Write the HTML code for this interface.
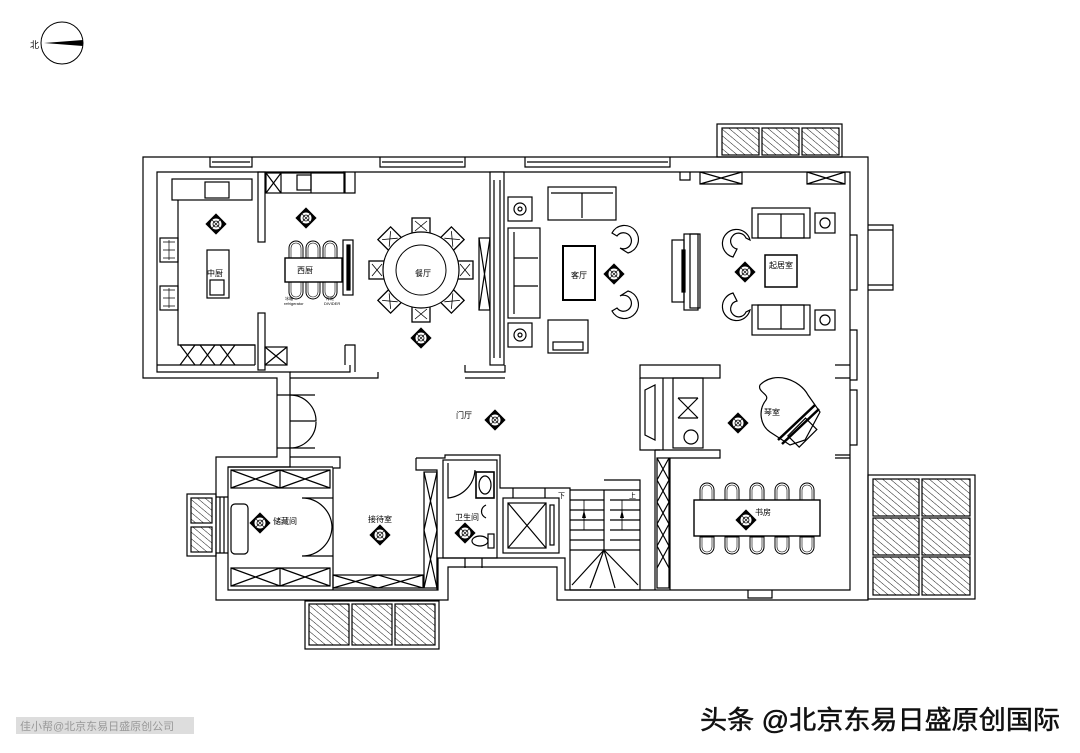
<!DOCTYPE html>
<html><head><meta charset="utf-8"><style>
html,body{margin:0;padding:0;background:#fff;width:1080px;height:753px;overflow:hidden}
svg{display:block}
text{font-family:"Liberation Sans","Noto Sans CJK SC",sans-serif;fill:#000}
</style></head><body>
<svg width="1080" height="753" viewBox="0 0 1080 753" xmlns="http://www.w3.org/2000/svg">
<defs>
<pattern id="h" width="5" height="5" patternUnits="userSpaceOnUse" patternTransform="rotate(-50)">
<line x1="0" y1="0" x2="0" y2="5" stroke="#000" stroke-width="0.9"/>
</pattern>
<g id="lamp">
<rect x="-7.5" y="-7.5" width="15" height="15" transform="rotate(45)" fill="#000"/>
<circle r="5.5" fill="#fff"/><circle r="3" fill="none" stroke="#000" stroke-width="0.8"/>
<path d="M-4,-4 L4,4 M4,-4 L-4,4" stroke="#000" stroke-width="0.6"/>
</g>
<g id="chair"><path d="M-7,8 L-7,-2 A7,7 0 0 1 7,-2 L7,8 Z" fill="#fff" stroke="#000" stroke-width="1"/><path d="M-5,8 L-5,-2 A5,5 0 0 1 5,-2 L5,8" fill="none" stroke="#000" stroke-width="0.6"/></g>
<g id="dchair"><rect x="-9" y="-52" width="18" height="16" fill="#fff" stroke="#000" stroke-width="1.3"/><path d="M-6,-49 L6,-39 M6,-49 L-6,-39" stroke="#000" stroke-width="0.8"/></g>
</defs>
<g fill="none" stroke="#000" stroke-width="1.2">
<circle cx="62" cy="43" r="21" stroke-width="1"/>
<path d="M44,43 L83,40 L83,46 Z" fill="#000" stroke="none"/>
<path d="M143,157 L868,157 L868,600 L557,600 L557,567 L448,567 L448,600 L216,600 L216,457 L277,457 L277,378 L143,378 Z"/>
<path d="M157,172 L850,172 L850,590 L565,590 L565,558 L438,558 L438,590 L228,590 L228,467 L290,467 L290,372 L157,372 Z"/>
<path d="M210,157 L210,167 L252,167 L252,157 M212,162 L250,162"/>
<path d="M380,157 L380,167 L465,167 L465,157 M382,162 L463,162"/>
<path d="M525,157 L525,167 L670,167 L670,157 M527,162 L668,162"/>
<rect x="717" y="124" width="125" height="33"/>
<rect x="722" y="128" width="37" height="27" fill="url(#h)"/>
<rect x="762" y="128" width="37" height="27" fill="url(#h)"/>
<rect x="802" y="128" width="37" height="27" fill="url(#h)"/>
<rect x="868" y="475" width="107" height="124"/>
<rect x="873" y="479" width="46" height="37" fill="url(#h)"/><rect x="922" y="479" width="48" height="37" fill="url(#h)"/>
<rect x="873" y="518" width="46" height="37" fill="url(#h)"/><rect x="922" y="518" width="48" height="37" fill="url(#h)"/>
<rect x="873" y="557" width="46" height="38" fill="url(#h)"/><rect x="922" y="557" width="48" height="38" fill="url(#h)"/>
<rect x="305" y="601" width="134" height="48"/>
<rect x="309" y="604" width="40" height="41" fill="url(#h)"/><rect x="352" y="604" width="40" height="41" fill="url(#h)"/><rect x="395" y="604" width="40" height="41" fill="url(#h)"/>
<rect x="187" y="494" width="29" height="62"/>
<rect x="191" y="498" width="21" height="25" fill="url(#h)"/><rect x="191" y="527" width="21" height="25" fill="url(#h)"/>
<path d="M216,497 L228,497 M216,553 L228,553 M220,497 L220,553 M224,497 L224,553"/>
<path d="M868,225 L893,225 L893,290 L868,290 M868,230 L893,230 M868,285 L893,285"/>
<path d="M850,235 L857,235 L857,290 L850,290 M850,330 L857,330 L857,380 L850,380 M850,390 L857,390 L857,445 L850,445"/>
<path d="M157,365 L255,365 M178,200 L178,345 L255,345"/>
<rect x="172" y="179" width="80" height="21"/>
<rect x="205" y="182" width="24" height="16"/>
<rect x="160" y="238" width="18" height="24"/><rect x="160" y="286" width="18" height="24"/>
<path d="M163,242 L175,242 M163,250 L175,250 M163,258 L175,258 M169,240 L169,260 M163,290 L175,290 M163,298 L175,298 M163,306 L175,306 M169,288 L169,308" stroke-width="0.7"/>
<rect x="207" y="250" width="22" height="48"/>
<rect x="210" y="280" width="14" height="15"/>
<path d="M180,345 L255,345 L255,365 M180,345 L195,365 M195,345 L180,365 M200,345 L215,365 M215,345 L200,365 M220,345 L235,365 M235,345 L220,365"/>
<rect x="258" y="172" width="7" height="70"/><rect x="258" y="313" width="7" height="57"/>
<rect x="266" y="173" width="78" height="20"/>
<path d="M266,173 L281,193 M281,173 L266,193 M281,173 L281,193 M311,173 L311,193"/>
<rect x="297" y="175" width="14" height="15"/>
<rect x="265" y="347" width="22" height="18"/>
<path d="M265,347 L287,365 M287,347 L265,365"/>
<path d="M343,172 L345,172 L345,193 L355,193 L355,172 M345,345 L355,345 L355,372 M345,345 L345,365"/>
<rect x="343" y="240" width="10" height="55"/><rect x="347" y="245" width="3" height="45" fill="#000"/>
</g>
<g>
<use href="#chair" transform="translate(296,250)"/><use href="#chair" transform="translate(313,250)"/><use href="#chair" transform="translate(330,250)"/>
<use href="#chair" transform="translate(296,290) rotate(180)"/><use href="#chair" transform="translate(313,290) rotate(180)"/><use href="#chair" transform="translate(330,290) rotate(180)"/>
</g>
<rect x="285" y="258" width="57" height="24" fill="#fff" stroke="#000" stroke-width="1.4"/>
<g fill="#fff" stroke="#000" stroke-width="1.2">
<g transform="translate(421,270)">
<use href="#dchair"/><use href="#dchair" transform="rotate(45)"/><use href="#dchair" transform="rotate(90)"/><use href="#dchair" transform="rotate(135)"/>
<use href="#dchair" transform="rotate(180)"/><use href="#dchair" transform="rotate(225)"/><use href="#dchair" transform="rotate(270)"/><use href="#dchair" transform="rotate(315)"/>
<circle r="38"/><circle r="25" fill="none" stroke-width="1"/>
</g>
<rect x="479" y="238" width="11" height="72"/>
<path d="M479,238 L490,310 M490,238 L479,310" fill="none"/>
<rect x="490" y="172" width="14" height="193"/>
<path d="M494,180 L494,358 M500,180 L500,358" fill="none"/>
</g>
<g fill="none" stroke="#000" stroke-width="1.2">
<path d="M290,372 L350,372 L350,365 M465,365 L465,372 L505,372 L505,365 M290,378 L378,378 L378,372 M465,378 L505,378"/>
<rect x="548" y="187" width="68" height="33"/><path d="M551,193 L613,193 M582,193 L582,218"/>
<rect x="508" y="228" width="32" height="90"/><path d="M514,232 L514,314 M514,258 L538,258 M514,286 L538,286"/>
<rect x="508" y="197" width="24" height="24"/><circle cx="520" cy="209" r="6"/><circle cx="520" cy="209" r="2"/>
<rect x="508" y="323" width="24" height="24"/><circle cx="520" cy="335" r="6"/><circle cx="520" cy="335" r="2"/>
<rect x="563" y="246" width="32" height="54" stroke-width="2"/>
<rect x="548" y="320" width="40" height="33"/><rect x="553" y="342" width="30" height="8"/>
<path d="M612,233 A14,14 0 1 1 628,253 L620,248 A8,8 0 1 0 617,236 Z"/>
<path d="M612,311 A14,14 0 1 0 628,291 L620,296 A8,8 0 1 1 617,308 Z"/>
<rect x="672" y="240" width="12" height="62"/><rect x="690" y="234" width="10" height="74"/><rect x="684" y="234" width="14" height="76"/>
<rect x="682" y="250" width="3" height="42" fill="#000"/>
<path d="M750,240 A14,14 0 1 0 733,257 L737,249 A8,8 0 1 1 746,238 Z"/>
<path d="M750,310 A14,14 0 1 1 733,293 L737,301 A8,8 0 1 0 746,312 Z"/>
<rect x="752" y="208" width="58" height="30"/><rect x="758" y="214" width="46" height="24"/><path d="M781,214 L781,238"/>
<rect x="752" y="305" width="58" height="30"/><rect x="758" y="305" width="46" height="24"/><path d="M781,305 L781,329"/>
<rect x="815" y="213" width="20" height="20"/><circle cx="825" cy="223" r="5"/>
<rect x="815" y="310" width="20" height="20"/><circle cx="825" cy="320" r="5"/>
<rect x="765" y="255" width="32" height="32" stroke-width="1.5"/>
<path d="M700,172 L700,184 L742,184 L742,172 M700,172 L742,184 M742,172 L700,184 M807,172 L807,184 L845,184 L845,172 M807,172 L845,184 M845,172 L807,184"/>
<path d="M680,172 L680,180 L690,180 L690,172"/>
<path d="M640,370 L640,365 L720,365 L720,378 L640,378 Z M835,365 L850,365 M835,378 L850,378"/>
<rect x="673" y="378" width="30" height="70"/><path d="M678,398 L698,418 M698,398 L678,418 M678,398 L698,398 M678,418 L698,418"/>
<circle cx="691" cy="437" r="7"/>
<path d="M645,390 L655,385 L655,440 L645,435 Z"/>
<path d="M640,378 L640,450 L660,450 M663,378 L663,450"/>
<path d="M760,385 C775,370 800,380 808,395 L820,412 L805,440 L790,445 L770,432 C760,425 758,410 766,400 C770,394 757,392 760,385 Z" fill="#fff"/>
<path d="M778,440 L815,405 M782,444 L819,409" stroke-width="2.5"/>
<rect x="790" y="425" width="25" height="16" transform="rotate(-45 802 433)"/>
<path d="M655,450 L720,450 L720,458 L670,458 L670,590 M655,450 L655,590"/>
<rect x="657" y="458" width="12" height="130"/>
<path d="M657,458 L669,480 M669,458 L657,480 M657,480 L669,502 M669,480 L657,502 M657,502 L669,524 M669,502 L657,524 M657,524 L669,546 M669,524 L657,546 M657,546 L669,568 M669,546 L657,568"/>
<path d="M835,455 L850,455 M835,458 L850,458"/>
<path d="M748,590 L748,598 L772,598 L772,590"/>
</g>
<g>
<use href="#chair" transform="translate(707,492)"/><use href="#chair" transform="translate(732,492)"/><use href="#chair" transform="translate(757,492)"/><use href="#chair" transform="translate(782,492)"/><use href="#chair" transform="translate(807,492)"/>
<use href="#chair" transform="translate(707,545) rotate(180)"/><use href="#chair" transform="translate(732,545) rotate(180)"/><use href="#chair" transform="translate(757,545) rotate(180)"/><use href="#chair" transform="translate(782,545) rotate(180)"/><use href="#chair" transform="translate(807,545) rotate(180)"/>
</g>
<rect x="694" y="500" width="126" height="36" fill="#fff" stroke="#000" stroke-width="1.4"/>
<g fill="none" stroke="#000" stroke-width="1.2">
<path d="M277,395 L290,395 M277,448 L290,448 M290,395 L315,395 M290,448 L315,448"/>
<path d="M290,395 A26,26 0 0 1 316,421 L290,421 M290,448 A26,26 0 0 0 316,422"/>
<path d="M290,457 L340,457 L340,468 L333,468 L333,590 M228,467 L333,467"/>
<path d="M416,458 L445,458 L445,455 L500,455 L500,488 L570,488 L570,590"/>
<path d="M416,458 L416,470 L437,470 L437,590"/>
<rect x="424" y="472" width="13" height="116"/><path d="M424,472 L437,530 M437,472 L424,530 M424,530 L437,588 M437,530 L424,588"/>
<rect x="231" y="470" width="99" height="18"/><path d="M231,470 L280,488 M280,470 L231,488 M280,470 L330,488 M330,470 L280,488 M280,470 L280,488"/>
<rect x="231" y="568" width="99" height="18"/><path d="M231,568 L280,586 M280,568 L231,586 M280,568 L330,586 M330,568 L280,586 M280,568 L280,586"/>
<rect x="333" y="575" width="90" height="13"/><path d="M333,575 L378,588 M378,575 L333,588 M378,575 L423,588 M423,575 L378,588"/>
<rect x="231" y="504" width="17" height="50" rx="4"/>
<path d="M333,498 L302,498 A30,30 0 0 1 332,527 M333,556 L302,556 A30,30 0 0 0 332,527"/>
<rect x="443" y="460" width="54" height="98"/>
<path d="M448,463 L448,498 A30,30 0 0 0 475,470"/>
<rect x="476" y="472" width="18" height="26" stroke-width="1.6"/><ellipse cx="485" cy="485" rx="6" ry="9"/>
<ellipse cx="480" cy="541" rx="8" ry="5"/><rect x="488" y="534" width="6" height="14"/>
<path d="M486,505 C480,508 480,515 486,518"/>
<path d="M465,558 L465,568 M482,558 L482,568"/>
<rect x="503" y="498" width="56" height="55"/><rect x="508" y="503" width="38" height="45"/>
<path d="M508,503 L546,548 M546,503 L508,548"/><rect x="550" y="505" width="4" height="40"/>
<path d="M513,488 L513,498 M545,488 L545,498"/>
<path d="M570,490 L640,490 M570,590 L640,590 M604,490 L604,550"/>
<path d="M570,500 L604,500 M570,510 L604,510 M570,520 L604,520 M570,530 L604,530 M570,540 L604,540 M570,550 L640,550"/>
<path d="M610,500 L640,500 M610,510 L640,510 M610,520 L640,520 M610,530 L640,530 M610,540 L640,540 M604,480 L640,480 L640,590"/>
<path d="M604,550 L572,585 M604,550 L590,588 M604,550 L615,588 M604,550 L638,585"/>
<path d="M584,500 L584,530 M622,500 L622,530" stroke-width="0.8"/>
</g>
<path d="M582,518 L584,510 L586,518 Z M620,518 L622,510 L624,518 Z" fill="#000"/>
<g>
<use href="#lamp" transform="translate(216,224)"/><use href="#lamp" transform="translate(306,218)"/>
<use href="#lamp" transform="translate(421,338)"/><use href="#lamp" transform="translate(614,274)"/>
<use href="#lamp" transform="translate(745,272)"/><use href="#lamp" transform="translate(495,420)"/>
<use href="#lamp" transform="translate(738,423)"/><use href="#lamp" transform="translate(746,520)"/>
<use href="#lamp" transform="translate(260,523)"/><use href="#lamp" transform="translate(380,535)"/>
<use href="#lamp" transform="translate(465,533)"/>
</g>
<g font-size="8">
<text x="207" y="276">中厨</text>
<text x="297" y="273">西厨</text>
<text x="415" y="276">餐厅</text>
<text x="571" y="278">客厅</text>
<text x="769" y="268">起居室</text>
<text x="456" y="418">门厅</text>
<text x="764" y="415">琴室</text>
<text x="755" y="515">书房</text>
<text x="273" y="524">储藏间</text>
<text x="368" y="522">接待室</text>
<text x="455" y="520">卫生间</text>
<text x="558" y="498" font-size="7">下</text>
<text x="629" y="498" font-size="7">上</text>
<text x="30" y="48" font-size="9">北</text>
<text x="285" y="300" font-size="4">冰箱</text><text x="284" y="305" font-size="4">refrigerator</text>
<text x="326" y="300" font-size="4">冷柜</text><text x="324" y="305" font-size="4">DIVIDER</text>
</g>
<rect x="16" y="717" width="178" height="17" fill="#ddd"/>
<text x="20" y="730" font-size="11" style="fill:#999">佳小帮@北京东易日盛原创公司</text>
<text x="700" y="729" font-size="26" textLength="360" lengthAdjust="spacingAndGlyphs" style="fill:#111;stroke:#111;stroke-width:0.5">头条 @北京东易日盛原创国际</text>
</svg>
</body></html>
